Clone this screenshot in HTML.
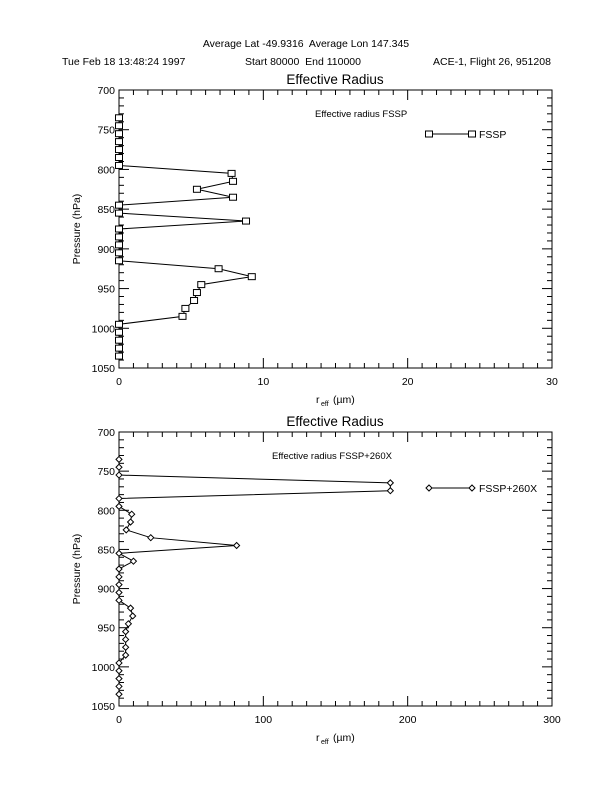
<!DOCTYPE html>
<html><head><meta charset="utf-8"><style>
body{margin:0;background:#fff}
svg{display:block}
text{font-family:"Liberation Sans",sans-serif;fill:#000;white-space:pre}
</style></head><body>
<svg id="s" width="612" height="792" xmlns="http://www.w3.org/2000/svg">
<text x="306" y="47" font-size="10.5" text-anchor="middle">Average Lat -49.9316  Average Lon 147.345</text>
<text x="62" y="65" font-size="10.5">Tue Feb 18 13:48:24 1997</text>
<text x="245" y="65" font-size="10.5">Start 80000  End 110000</text>
<text x="433" y="65" font-size="10.5">ACE-1, Flight 26, 951208</text>
</svg>
<script>
const s=document.getElementById('s');const NS='http://www.w3.org/2000/svg';
function el(t,a,txt){const e=document.createElementNS(NS,t);for(const k in a)e.setAttribute(k,a[k]);if(txt!=null)e.textContent=txt;s.appendChild(e);return e;}
function plot(top,bot,xmax,title,note,noteX,legend,legY,data,marker){
 const L=119,R=552;
 const X=v=>L+v/xmax*(R-L), Y=p=>top+(p-700)/350*(bot-top);
 el('text',{x:335,y:top-6,'font-size':13.5,'text-anchor':'middle'},'Effective Radius');
 el('rect',{x:L,y:top,width:R-L,height:bot-top,fill:'none',stroke:'#000','stroke-width':1});
 for(let i=0;i<=30;i++){const x=L+i*(R-L)/30;const len=i%10==0?10:5;
  el('line',{x1:x,y1:bot,x2:x,y2:bot-len,stroke:'#000'});el('line',{x1:x,y1:top,x2:x,y2:top+len,stroke:'#000'});
  if(i%10==0)el('text',{x:x,y:bot+17,'font-size':10.5,'text-anchor':'middle'},String(i/30*xmax));}
 for(let p=700;p<=1050;p+=10){const y=Y(p);const len=p%50==0?10:5;
  el('line',{x1:L,y1:y,x2:L+len,y2:y,stroke:'#000'});el('line',{x1:R,y1:y,x2:R-len,y2:y,stroke:'#000'});
  if(p%50==0)el('text',{x:L-4,y:y+4,'font-size':10.5,'text-anchor':'end'},String(p));}
 el('text',{x:316,y:bot+35,'font-size':10.5},'r');
 el('text',{x:321,y:bot+38,'font-size':7},'eff');
 el('text',{x:333,y:bot+35,'font-size':10.5},'(µm)');
 el('text',{x:80,y:(top+bot)/2,'font-size':10.5,'text-anchor':'middle',transform:`rotate(-90 80 ${(top+bot)/2})`},'Pressure (hPa)');
 el('text',{x:noteX,y:top+27,'font-size':9.5},note);
 const pts=data.map(d=>[X(d[1]),Y(d[0])]);
 el('polyline',{points:pts.map(p=>p.join(',')).join(' '),fill:'none',stroke:'#000','stroke-width':1});
 const mk=(x,y)=>{if(marker=='sq')el('rect',{x:x-3.5,y:y-3,width:7,height:6,fill:'#fff',stroke:'#000'});
  else el('polygon',{points:`${x-3},${y} ${x},${y-3} ${x+3},${y} ${x},${y+3}`,fill:'#fff',stroke:'#000'});};
 pts.forEach(p=>mk(p[0],p[1]));
 el('line',{x1:429,y1:legY,x2:472,y2:legY,stroke:'#000'});mk(429,legY);mk(472,legY);
 el('text',{x:479,y:legY+4,'font-size':10.5},legend);
}
const d1=[[735,0],[745,0],[755,0],[765,0],[775,0],[785,0],[795,0],[805,7.8],[815,7.9],[825,5.4],[835,7.9],[845,0],[855,0],[865,8.8],[875,0],[885,0],[895,0],[905,0],[915,0],[925,6.9],[935,9.2],[945,5.7],[955,5.4],[965,5.2],[975,4.6],[985,4.4],[995,0],[1005,0],[1015,0],[1025,0],[1035,0]];
const d2=[[735,0],[745,0],[755,0],[765,188],[775,188],[785,0],[795,0],[805,8.8],[815,8],[825,5],[835,22],[845,81.5],[855,0],[865,10],[875,0],[885,0],[895,0],[905,0],[915,0],[925,8],[935,9.5],[945,6.5],[955,4.6],[965,4.6],[975,4.6],[985,4.6],[995,0],[1005,0],[1015,0],[1025,0],[1035,0]];
plot(90,368,30,'Effective Radius','Effective radius FSSP',315,'FSSP',134,d1,'sq');
plot(432,706,300,'Effective Radius','Effective radius FSSP+260X',272,'FSSP+260X',488,d2,'dm');
</script>
</body></html>
